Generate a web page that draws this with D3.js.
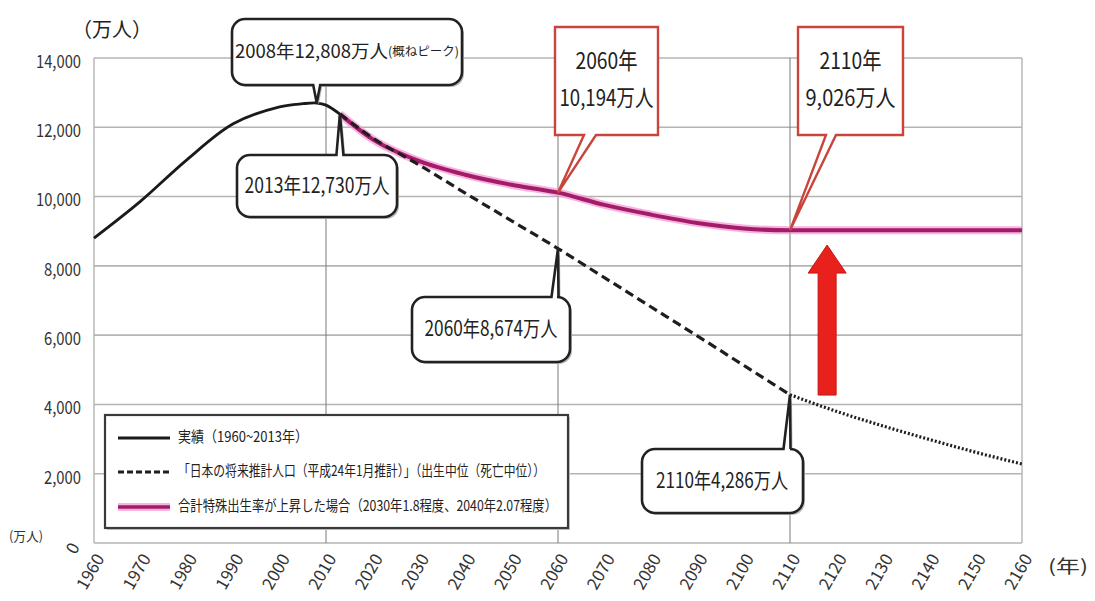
<!DOCTYPE html>
<html><head><meta charset="utf-8">
<script src="https://cdn.jsdelivr.net/npm/d3@7"></script>
<style>
html,body{margin:0;padding:0;background:#fff;}
svg{display:block;}
</style></head>
<body>
<svg id="chart" width="1095" height="601"></svg>
<script>
// ---------------- data ----------------
const yearsActual = [1960,1970,1980,1990,2000,2005,2008,2010,2013];
const popActual   = [8800,9860,11060,12100,12590,12680,12700,12640,12380];

const yearsProj = [2013,2020,2030,2040,2050,2060,2070,2080,2090,2100,2110];
const popProj   = [12380,11700,10920,10100,9300,8500,7660,6820,5980,5130,4280];

const yearsLong = [2110,2120,2130,2140,2150,2160];
const popLong   = [4280,3800,3380,2990,2620,2280];

const yearsHigh = [2013,2020,2030,2040,2050,2060,2070,2080,2090,2100,2110,2120,2130,2140,2150,2160];
const popHigh   = [12380,11660,11030,10630,10340,10115,9760,9480,9240,9080,9026,9026,9026,9026,9026,9026];

const yTicks = [0,2000,4000,6000,8000,10000,12000,14000];
const xTicks = [1960,1970,1980,1990,2000,2010,2020,2030,2040,2050,2060,2070,2080,2090,2100,2110,2120,2130,2140,2150,2160];
const xGridYears = [2010,2060,2110];

const legendLabels = [
  "実績（1960~2013年）",
  "「日本の将来推計人口（平成24年1月推計）」（出生中位（死亡中位））",
  "合計特殊出生率が上昇した場合（2030年1.8程度、2040年2.07程度）"
];

const calloutPeak  = {year:2008, value:12700, text:"2008年12,808万人", sub:"(概ねピーク)"};
const callout2013  = {year:2013, value:12380, text:"2013年12,730万人"};
const callout2060  = {year:2060, value:8500,  text:"2060年8,674万人"};
const callout2110  = {year:2110, value:4280,  text:"2110年4,286万人"};
const redBox2060   = {year:2060, value:10115, line1:"2060年", line2:"10,194万人"};
const redBox2110   = {year:2110, value:9026,  line1:"2110年", line2:"9,026万人"};
const arrowSpec    = {year:2118, from:4270, to:8600};

// ---------------- setup ----------------
const FONT = "'Liberation Sans Narrow','Noto Sans CJK JP',sans-serif";
const svg = d3.select("#chart");
const x = d3.scaleLinear().domain([1960,2160]).range([94,1022]);
const y = d3.scaleLinear().domain([0,14000]).range([543,58]);

// gridlines
svg.append("g").selectAll("line").data(yTicks).join("line")
  .attr("x1",x(1960)).attr("x2",x(2160))
  .attr("y1",d=>y(d)).attr("y2",d=>y(d))
  .attr("stroke","#b4b4b4").attr("stroke-width",1.6);
svg.append("g").selectAll("line").data([1960,2160]).join("line")
  .attr("x1",d=>x(d)).attr("x2",d=>x(d))
  .attr("y1",y(14000)).attr("y2",y(0))
  .attr("stroke","#b4b4b4").attr("stroke-width",1.4);
svg.append("g").selectAll("line").data(xGridYears).join("line")
  .attr("x1",d=>x(d)).attr("x2",d=>x(d))
  .attr("y1",y(14000)).attr("y2",y(0))
  .attr("stroke","#7a7a7a").attr("stroke-width",1);

// y axis labels
svg.append("g").selectAll("text").data(yTicks.filter(d=>d>0)).join("text")
  .attr("x",81).attr("y",d=>y(d)+5)
  .attr("text-anchor","end").attr("dominant-baseline","middle")
  .attr("font-family",FONT).attr("font-size",18).attr("fill","#333")
  .attr("textLength",d=>d>=10000?45:37).attr("lengthAdjust","spacingAndGlyphs")
  .text(d=>d3.format(",")(d));
svg.append("text").attr("transform",`translate(74,${y(0)+6}) rotate(-62)`)
  .attr("text-anchor","middle").attr("dominant-baseline","middle")
  .attr("font-family",FONT).attr("font-size",17).attr("fill","#333").text("0");

// x axis labels
svg.append("g").selectAll("text").data(xTicks).join("text")
  .attr("transform",d=>`translate(${x(d)+7},${556}) rotate(-60)`)
  .attr("text-anchor","end").attr("dominant-baseline","middle")
  .attr("font-family",FONT).attr("font-size",17).attr("fill","#333")
  .text(d=>d);

// units
svg.append("text").attr("x",112).attr("y",32).attr("text-anchor","middle").attr("dominant-baseline","middle")
  .attr("font-family","'Noto Sans CJK JP',sans-serif").attr("font-size",20).attr("fill","#222").text("（万人）");
svg.append("text").attr("x",26).attr("y",537).attr("text-anchor","middle").attr("dominant-baseline","middle")
  .attr("font-family","'Noto Sans CJK JP',sans-serif").attr("font-size",13).attr("fill","#333")
  .attr("textLength",34).attr("lengthAdjust","spacingAndGlyphs").text("(万人)");
svg.append("text").attr("x",1068).attr("y",568).attr("text-anchor","middle").attr("dominant-baseline","middle")
  .attr("font-family","'Noto Sans CJK JP',sans-serif").attr("font-size",18).attr("fill","#333")
  .attr("textLength",40).attr("lengthAdjust","spacingAndGlyphs").text("(年)");

// ---------------- lines ----------------
const lineSmooth = d3.line().x(d=>x(d[0])).y(d=>y(d[1])).curve(d3.curveCatmullRom.alpha(0.5));
const line = d3.line().x(d=>x(d[0])).y(d=>y(d[1])).curve(d3.curveMonotoneX);
const zipped = (a,b)=>a.map((v,i)=>[v,b[i]]);

// pink (high fertility) glow + core
svg.append("path").datum(zipped(yearsHigh,popHigh)).attr("d",line)
  .attr("fill","none").attr("stroke","#f59ad6").attr("stroke-width",8).attr("stroke-opacity",0.75);
svg.append("path").datum(zipped(yearsHigh,popHigh)).attr("d",line)
  .attr("fill","none").attr("stroke","#a31c68").attr("stroke-width",4);

// projection dashed
svg.append("path").datum(zipped(yearsProj,popProj)).attr("d",line)
  .attr("fill","none").attr("stroke","#1e1e1e").attr("stroke-width",3.2).attr("stroke-dasharray","9,5");
// long-range dotted
svg.append("path").datum(zipped(yearsLong,popLong)).attr("d",line)
  .attr("fill","none").attr("stroke","#1e1e1e").attr("stroke-width",3.2).attr("stroke-dasharray","2,2");
// actual
svg.append("path").datum(zipped(yearsActual,popActual)).attr("d",lineSmooth)
  .attr("fill","none").attr("stroke","#1a1a1a").attr("stroke-width",2.8);

// ---------------- red arrow ----------------
(function(){
  const cx = x(arrowSpec.year), yb = y(arrowSpec.from), yt = y(arrowSpec.to);
  const headH = 28, sw = 9, hw = 19;
  const pts = [[cx-sw,yb],[cx-sw,yt+headH],[cx-hw,yt+headH],[cx,yt],[cx+hw,yt+headH],[cx+sw,yt+headH],[cx+sw,yb]];
  svg.append("polygon").attr("points",pts.map(p=>p.join(",")).join(" "))
    .attr("fill","#e8211d").attr("stroke","#c81512").attr("stroke-width",1);
})();

// ---------------- legend ----------------
const lg = svg.append("g");
lg.append("rect").attr("x",107).attr("y",417).attr("width",463).attr("height",113).attr("fill","#c8c8c8");
lg.append("rect").attr("x",105).attr("y",415).attr("width",463).attr("height",113)
  .attr("fill","#fff").attr("stroke","#3a3a3a").attr("stroke-width",2.2);
const rowsY = [438,472,507];
const rowW = [130,367,379];
lg.append("line").attr("x1",118).attr("x2",170).attr("y1",rowsY[0]).attr("y2",rowsY[0]).attr("stroke","#1a1a1a").attr("stroke-width",2.8);
lg.append("line").attr("x1",118).attr("x2",170).attr("y1",rowsY[1]).attr("y2",rowsY[1]).attr("stroke","#1e1e1e").attr("stroke-width",2.8).attr("stroke-dasharray","6,3");
lg.append("line").attr("x1",118).attr("x2",170).attr("y1",rowsY[2]).attr("y2",rowsY[2]).attr("stroke","#f59ad6").attr("stroke-width",8).attr("stroke-opacity",0.75);
lg.append("line").attr("x1",118).attr("x2",170).attr("y1",rowsY[2]).attr("y2",rowsY[2]).attr("stroke","#a31c68").attr("stroke-width",3.5);
lg.selectAll("text.lt").data(legendLabels).join("text").attr("class","lt")
  .attr("x",178).attr("y",(d,i)=>rowsY[i]).attr("dominant-baseline","middle")
  .attr("font-family","'Noto Sans CJK JP',sans-serif").attr("font-size",15).attr("fill","#222")
  .attr("textLength",(d,i)=>rowW[i]).attr("lengthAdjust","spacingAndGlyphs")
  .text(d=>d);

// ---------------- callouts ----------------
function roundedCallout(x0,y0,x1,y1,r,bx,w,tx,ty,side){
  let p = "";
  if(side==="bottom"){
    p = `M${x0+r},${y0} H${x1-r} A${r},${r} 0 0 1 ${x1},${y0+r} V${y1-r} A${r},${r} 0 0 1 ${x1-r},${y1}`+
        ` H${bx+w} L${tx},${ty} L${bx-w},${y1} H${x0+r} A${r},${r} 0 0 1 ${x0},${y1-r} V${y0+r} A${r},${r} 0 0 1 ${x0+r},${y0} Z`;
  } else {
    p = `M${x0+r},${y0} H${bx-w} L${tx},${ty} L${bx+w},${y0} H${x1-r} A${r},${r} 0 0 1 ${x1},${y0+r} V${y1-r} A${r},${r} 0 0 1 ${x1-r},${y1}`+
        ` H${x0+r} A${r},${r} 0 0 1 ${x0},${y1-r} V${y0+r} A${r},${r} 0 0 1 ${x0+r},${y0} Z`;
  }
  return p;
}
function drawRounded(c,box,side,tailX){
  const tx = x(c.year), ty = y(c.value);
  const bx = tailX!==undefined ? tailX : tx;
  const d = roundedCallout(box[0],box[1],box[2],box[3],13,bx,3.5,tx,ty,side);
  svg.append("path").attr("d",d).attr("transform","translate(2,2)").attr("fill","#bdbdbd");
  svg.append("path").attr("d",d).attr("fill","#fff").attr("stroke","#222").attr("stroke-width",2.6);
}
// peak
const bPeak = [232,19,462,85];
drawRounded(calloutPeak,bPeak,"bottom");
const tPeak = svg.append("text").attr("x",347).attr("y",53).attr("dominant-baseline","middle")
  .attr("text-anchor","middle")
  .attr("font-family",FONT).attr("fill","#222");
tPeak.append("tspan").attr("font-size",18.5).text(calloutPeak.text);
tPeak.append("tspan").attr("font-size",12.5).attr("font-family","'Noto Sans CJK JP',sans-serif").text(calloutPeak.sub);
// 2013
const b2013 = [237,155,397,217];
drawRounded(callout2013,b2013,"top");
svg.append("text").attr("x",317).attr("y",187).attr("text-anchor","middle").attr("dominant-baseline","middle")
  .attr("font-family",FONT).attr("font-size",21).attr("fill","#222")
  .attr("textLength",145).attr("lengthAdjust","spacingAndGlyphs").text(callout2013.text);
// 2060
const b2060 = [412,297,570,362];
drawRounded(callout2060,b2060,"top",x(2060)-3);
svg.append("text").attr("x",491).attr("y",330).attr("text-anchor","middle").attr("dominant-baseline","middle")
  .attr("font-family",FONT).attr("font-size",21).attr("fill","#222")
  .attr("textLength",133).attr("lengthAdjust","spacingAndGlyphs").text(callout2060.text);
// 2110
const b2110 = [642,449,803,513];
drawRounded(callout2110,b2110,"top",x(2110)-3);
svg.append("text").attr("x",722).attr("y",482).attr("text-anchor","middle").attr("dominant-baseline","middle")
  .attr("font-family",FONT).attr("font-size",21).attr("fill","#222")
  .attr("textLength",132).attr("lengthAdjust","spacingAndGlyphs").text(callout2110.text);

// red boxes
function drawRedBox(c,box,bx,w,w1,w2){
  const tx = x(c.year), ty = y(c.value);
  const [x0,y0,x1,y1] = box;
  const d = `M${x0},${y0} H${x1} V${y1} H${bx+w} L${tx},${ty} L${bx-w},${y1} H${x0} Z`;
  svg.append("path").attr("d",d).attr("fill","#fff").attr("stroke","#c9443a").attr("stroke-width",2.4);
  const cx = (x0+x1)/2;
  svg.append("text").attr("x",cx).attr("y",y0+36).attr("text-anchor","middle").attr("dominant-baseline","middle")
    .attr("font-family",FONT).attr("font-size",23).attr("fill","#222")
    .attr("textLength",w1).attr("lengthAdjust","spacingAndGlyphs").text(c.line1);
  svg.append("text").attr("x",cx).attr("y",y0+73).attr("text-anchor","middle").attr("dominant-baseline","middle")
    .attr("font-family",FONT).attr("font-size",23).attr("fill","#222")
    .attr("textLength",w2).attr("lengthAdjust","spacingAndGlyphs").text(c.line2);
}
drawRedBox(redBox2060,[555,27,658,135],590,6,62,94);
drawRedBox(redBox2110,[798,27,903,135],831,5,62,90);
</script>
</body></html>
